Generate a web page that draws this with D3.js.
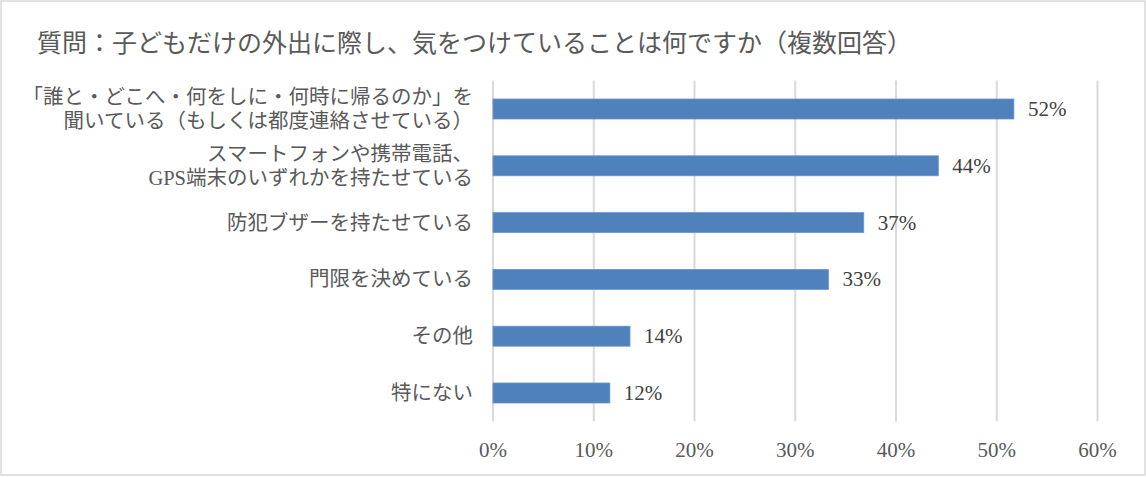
<!DOCTYPE html>
<html>
<head>
<meta charset="utf-8">
<script src="https://cdn.jsdelivr.net/npm/d3@7"></script>
<style>
  body { margin: 0; background: #fff; }
  svg { display: block; }
</style>
</head>
<body>
<svg id="chart" width="1146" height="477"></svg>
<script>
const title = '質問：子どもだけの外出に際し、気をつけていることは何ですか（複数回答）';

// each category may span two lines
const categories = [
  ['「誰と・どこへ・何をしに・何時に帰るのか」を', '聞いている（もしくは都度連絡させている）'],
  ['スマートフォンや携帯電話、', 'GPS端末のいずれかを持たせている'],
  ['防犯ブザーを持たせている'],
  ['門限を決めている'],
  ['その他'],
  ['特にない']
];
const values = [0.517, 0.442, 0.368, 0.333, 0.136, 0.116];
const ticks = [0, 0.1, 0.2, 0.3, 0.4, 0.5, 0.6];

const svg = d3.select('#chart');
const W = +svg.attr('width');
const H = +svg.attr('height');
const latinFont = '"Liberation Serif", "Noto Sans CJK JP", serif';

svg.append('rect')
  .attr('x', 1).attr('y', 1)
  .attr('width', W - 2).attr('height', H - 3)
  .attr('fill', '#fff')
  .attr('stroke', '#d9d9d9')
  .attr('stroke-width', 1.5);

svg.append('text')
  .attr('x', 37).attr('y', 41)
  .attr('dominant-baseline', 'central')
  .attr('font-family', '"Noto Sans CJK JP", sans-serif')
  .attr('font-size', 25)
  .attr('fill', '#595959')
  .text(title);

const x = d3.scaleLinear()
  .domain([0, 0.6])
  .range([493, 1097.5]);

const keys = categories.map((c, i) => i);
const y = d3.scaleBand()
  .domain(keys)
  .range([80.6, 421.4])
  .paddingInner(0.648)
  .paddingOuter(0.324);

// gridlines
svg.append('g')
  .selectAll('line')
  .data(ticks)
  .join('line')
  .attr('x1', d => x(d)).attr('x2', d => x(d))
  .attr('y1', 80.6).attr('y2', 421.4)
  .attr('stroke', '#d9d9d9')
  .attr('stroke-width', 2);

// x axis labels
svg.append('g')
  .selectAll('text')
  .data(ticks)
  .join('text')
  .attr('x', d => x(d))
  .attr('y', 450)
  .attr('text-anchor', 'middle')
  .attr('dominant-baseline', 'central')
  .attr('font-family', latinFont)
  .attr('font-size', 21)
  .attr('fill', '#595959')
  .text(d3.format('.0%'));

// bars
svg.append('g')
  .selectAll('rect')
  .data(values)
  .join('rect')
  .attr('x', x(0))
  .attr('y', (d, i) => y(i))
  .attr('width', d => x(d) - x(0))
  .attr('height', y.bandwidth())
  .attr('fill', '#4f81bd')
  .attr('stroke', '#6b96cc')
  .attr('stroke-width', 0.8);

// value labels
svg.append('g')
  .selectAll('text')
  .data(values)
  .join('text')
  .attr('x', d => x(d) + 14)
  .attr('y', (d, i) => y(i) + y.bandwidth() / 2)
  .attr('dominant-baseline', 'central')
  .attr('font-family', latinFont)
  .attr('font-size', 21)
  .attr('fill', '#404040')
  .text(d3.format('.0%'));

// category labels
const lab = svg.append('g')
  .selectAll('text')
  .data(categories)
  .join('text')
  .attr('text-anchor', 'end')
  .attr('font-family', latinFont)
  .attr('font-size', 20.5)
  .attr('fill', '#595959');

lab.each(function(lines, i) {
  const cy = y(i) + y.bandwidth() / 2;
  const lh = 24.5;
  d3.select(this).selectAll('tspan')
    .data(lines)
    .join('tspan')
    .attr('x', 473)
    .attr('y', (d, j) => cy + (j - (lines.length - 1) / 2) * lh)
    .attr('dominant-baseline', 'central')
    .text(d => d);
});
</script>
</body>
</html>
